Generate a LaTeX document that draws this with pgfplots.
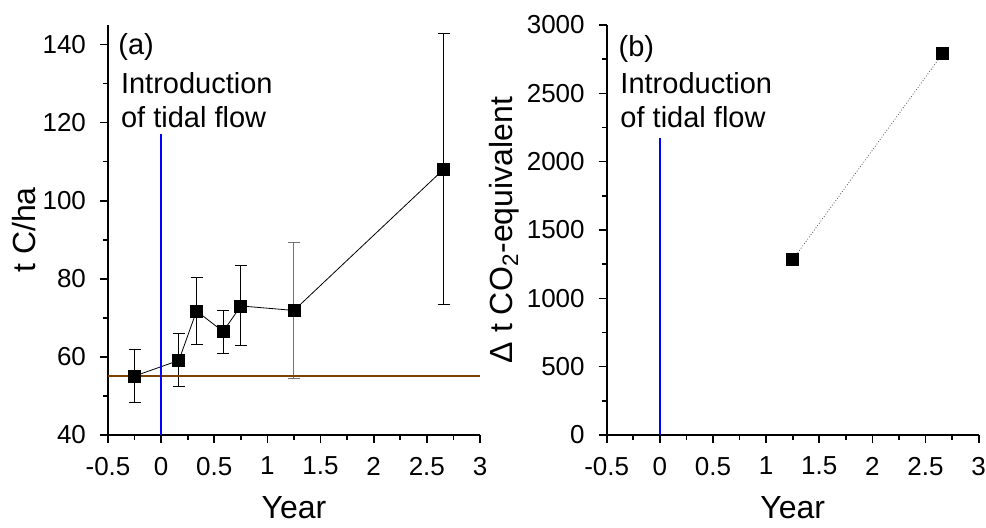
\documentclass[border=0pt]{standalone}
\usepackage{fontspec}
\setmainfont{Liberation Sans}
\usepackage{pgfplots}
\pgfplotsset{compat=1.18}
\definecolor{tidalbrown}{RGB}{128,64,0}

\pgfplotstableread{
x      y      e
-0.25  55.1   6.7
0.167  59.1   6.8
0.333  71.75  8.55
0.583  66.5   5.5
0.75   73.05  10.25
1.25   71.9   0
2.66   108.1  34.65
}\carbondata

\tikzset{note/.style={anchor=base west, inner sep=0pt, font=\fontsize{14.5}{17}\selectfont}}

\begin{document}
\begin{tikzpicture}
\pgfplotsset{
  panel/.style={
    scale only axis, width=186pt, height=205pt,
    axis lines*=left,
    axis line style={line width=0.8pt},
    tick align=outside,
    major tick length=4pt, minor tick length=2.5pt,
    every tick/.style={black, line width=0.8pt},
    xmin=-0.5, xmax=3, xtick distance=0.5, minor x tick num=1,
    minor y tick num=1,
    tick label style={font=\fontsize{13}{15}\selectfont},
    xticklabel style={yshift=-3.5pt},
    yticklabel style={xshift=-3.5pt},
    label style={font=\fontsize{16}{19}\selectfont},
    /pgf/number format/assume math mode=true,
    /pgf/number format/1000 sep={},
    xlabel={Year},
    xlabel style={at={(axis description cs:0.5,-0.203)}, anchor=base},
  },
}
\path[use as bounding box] (0,0) rectangle (493pt,263.5pt);

% (a) carbon stock
\begin{axis}[panel, at={(54pt,46pt)}, anchor=south west,
  ymin=40, ymax=145, ytick={40,60,...,140},
  ylabel={t C/ha},
  ylabel style={at={(axis description cs:-0.196,0.5)}, anchor=base}]
\addplot[black!55, mark=none, forget plot,
  error bars/.cd, y dir=both, y explicit,
  error bar style={line width=0.5pt, black!55},
  error mark options={rotate=90, mark size=3pt, line width=0.5pt, black!55}]
  coordinates {(1.25,71.9) +- (0,17.4)};
\addplot[black, line width=0.4pt, mark=square*, mark size=3pt,
  mark options={solid, fill=black},
  error bars/.cd, y dir=both, y explicit,
  error bar style={line width=0.5pt, black},
  error mark options={rotate=90, mark size=3pt, line width=0.5pt}]
  table[x=x, y=y, y error=e] {\carbondata};
\addplot[tidalbrown, line width=1pt] coordinates {(-0.5,55) (3,55)};
\addplot[blue, line width=1pt] coordinates {(0,40) (0,117)};
\node[note] at (rel axis cs:0.027,0.927) {(a)};
\node[note] at (rel axis cs:0.034,0.832) {Introduction};
\node[note] at (rel axis cs:0.034,0.749) {of tidal flow};
\end{axis}

% (b) CO2 equivalent
\begin{axis}[panel, at={(303.35pt,46pt)}, anchor=south west,
  ymin=0, ymax=3000, ytick={0,500,...,3000},
  ylabel={Δ t CO\textsubscript{2}-equivalent},
  ylabel style={at={(axis description cs:-0.252,0.5)}, anchor=base}]
\addplot[black!70, densely dotted, line width=0.4pt, mark=square*, mark size=3pt,
  mark options={solid, fill=black, draw=black}]
  coordinates {(1.25,1282) (2.66,2790)};
\addplot[blue, line width=1pt] coordinates {(0,0) (0,2170)};
\node[note] at (rel axis cs:0.031,0.922) {(b)};
\node[note] at (rel axis cs:0.036,0.832) {Introduction};
\node[note] at (rel axis cs:0.036,0.749) {of tidal flow};
\end{axis}
\end{tikzpicture}
\end{document}
